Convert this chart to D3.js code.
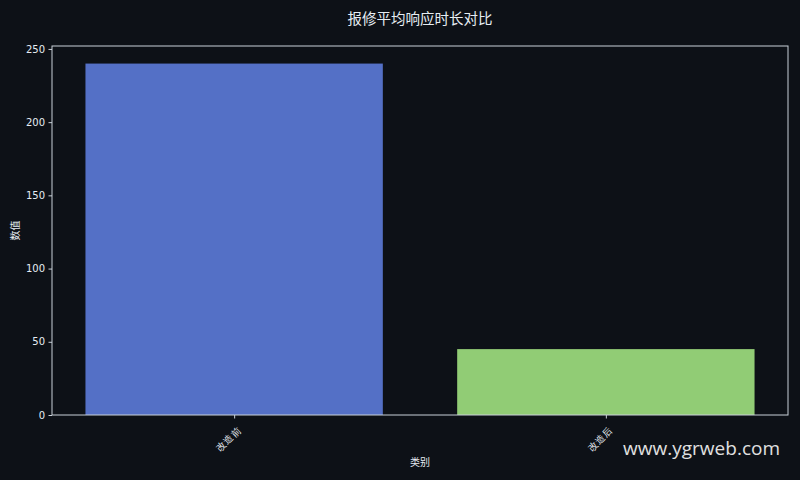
<!DOCTYPE html>
<html>
<head>
<meta charset="utf-8">
<script src="https://cdn.jsdelivr.net/npm/d3@7"></script>
<style>
  html, body { margin: 0; padding: 0; background: #0d1117; }
  svg { display: block; font-family: "Noto Sans CJK SC", "DejaVu Sans", sans-serif; }
</style>
</head>
<body>
<div id="chart"></div>
<script>
// datos del grafico
const categories = ["改造前", "改造后"];
const values = [240, 45];
const barColors = ["#5470c6", "#91cc75"];
const yTicks = [0, 50, 100, 150, 200, 250];

const width = 800, height = 480;
const margin = {top: 46, right: 10, bottom: 65, left: 52};
const innerW = width - margin.left - margin.right;
const innerH = height - margin.top - margin.bottom;
const textColor = "#e6edf3";
const axisColor = "#c9d1d9";

const svg = d3.select("#chart").append("svg")
    .attr("width", width)
    .attr("height", height);

svg.append("rect").attr("width", width).attr("height", height).attr("fill", "#0d1117");

const g = svg.append("g").attr("transform", `translate(${margin.left},${margin.top})`);

// escala x tipo matplotlib: barras de ancho 0.8 con margen 5%
const x = d3.scaleLinear().domain([-0.49, categories.length - 1 + 0.49]).range([0, innerW - 2]);
const y = d3.scaleLinear().domain([0, d3.max(values) * 1.05]).range([innerH, 0]);

g.selectAll(".bar")
    .data(values)
    .enter().append("rect")
    .attr("class", "bar")
    .attr("x", (d, i) => x(i - 0.4))
    .attr("width", (d, i) => x(i + 0.4) - x(i - 0.4))
    .attr("y", d => y(d))
    .attr("height", d => innerH - y(d))
    .attr("fill", (d, i) => barColors[i]);

// marco
g.append("rect")
    .attr("width", innerW - 2).attr("height", innerH)
    .attr("fill", "none").attr("stroke", axisColor).attr("stroke-width", 1);

const yAxis = g.append("g")
    .call(d3.axisLeft(y).tickValues(yTicks).tickSize(3.5).tickPadding(3.5));
yAxis.select(".domain").remove();
yAxis.selectAll("line").attr("stroke", axisColor);
yAxis.selectAll("text").attr("fill", textColor).style("font-size", "10px").style("font-family", "'DejaVu Sans', sans-serif");

const xAxis = g.append("g")
    .attr("transform", `translate(0,${innerH})`)
    .call(d3.axisBottom(x).tickValues(d3.range(categories.length)).tickFormat(i => categories[i]).tickSize(3.5));
xAxis.select(".domain").remove();
xAxis.selectAll("line").attr("stroke", axisColor);
xAxis.selectAll("text")
    .attr("fill", textColor)
    .style("font-size", "9.5px")
    .attr("text-anchor", "end")
    .attr("dy", null)
    .attr("y", 0)
    .attr("transform", "translate(7,16) rotate(-45)");

// titulos
svg.append("text")
    .attr("x", margin.left + (innerW - 2) / 2).attr("y", 24)
    .attr("text-anchor", "middle")
    .attr("fill", textColor)
    .style("font-size", "14.5px")
    .text("报修平均响应时长对比");

svg.append("text")
    .attr("x", margin.left + (innerW - 2) / 2).attr("y", 466)
    .attr("text-anchor", "middle")
    .attr("fill", textColor)
    .style("font-size", "10px")
    .text("类别");

svg.append("text")
    .attr("transform", `translate(19,${margin.top + innerH / 2}) rotate(-90)`)
    .attr("text-anchor", "middle")
    .attr("fill", textColor)
    .style("font-size", "10px")
    .text("数值");

// marca de agua
svg.append("text")
    .attr("x", 780).attr("y", 455)
    .attr("text-anchor", "end")
    .attr("fill", "#e0e0e0")
    .style("font-size", "19px")
    .style("font-family", "'Open Sans', sans-serif")
    .text("www.ygrweb.com");
</script>
</body>
</html>
